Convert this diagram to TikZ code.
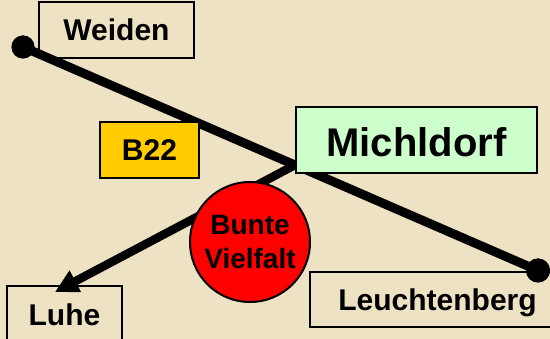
\documentclass[tikz,border=0pt]{standalone}
\usepackage{fontspec}
\setmainfont{Liberation Sans}
\usetikzlibrary{arrows.meta}
\definecolor{parch}{RGB}{238,226,196}
\definecolor{mint}{RGB}{204,255,204}
\definecolor{gold}{RGB}{255,204,0}
\definecolor{redfill}{RGB}{255,0,0}
\tikzset{
  place/.style={draw=black, line width=2pt, inner sep=0pt, font=\fontsize{30}{36}\selectfont\bfseries, text height=21.5pt, text depth=0pt},
  road/.style={line width=9pt, draw=black},
  dotend/.style={circle, fill=black, inner sep=0pt},
}
\begin{document}
\begin{tikzpicture}[x=1pt,y=-1pt]
\fill[parch] (0,0) rectangle (550,339);
\useasboundingbox (0,0) rectangle (550,339);
% main road
\node[dotend, minimum size=23pt] (W) at (23,47) {};
\node[dotend, minimum size=24pt] (L) at (538,270.5) {};
\draw[road] (W.center) -- (L.center);
% boxes
\node[place, minimum width=155pt, minimum height=56pt] (weiden) at (116.5,30) {Weiden};
\node[place, fill=gold, minimum width=99pt, minimum height=56pt] (b22) at (149.5,150) {B22};
\node[place, minimum width=255pt, minimum height=55pt] (leuchtenberg) at (437.5,299.5) {Leuchtenberg};
\node[place, minimum width=115pt, minimum height=58pt] (luhe) at (64.5,315) {Luhe};
\node[place, fill=mint, line width=2.5pt, minimum width=241pt, minimum height=66pt,
      font=\fontsize{40}{48}\selectfont\bfseries, text height=33.6pt] (michldorf) at (416.5,140) {Michldorf};
% arrow to Luhe
\coordinate (ms) at (295,165);
\coordinate (lt) at (55,292);
\draw[line width=8.5pt, -{Triangle[length=23pt,width=23pt]}] (ms) -- (lt);
% Bunte Vielfalt
\node[circle, draw=black, line width=2pt, fill=redfill, minimum size=120pt, inner sep=0pt,
      align=center, font=\fontsize{28}{34}\selectfont\bfseries] (bunte) at (250,242) {Bunte\\Vielfalt};
% dots on top
\fill[black] (W) circle (11.5pt);
\fill[black] (L) circle (12pt);
\end{tikzpicture}
\end{document}
